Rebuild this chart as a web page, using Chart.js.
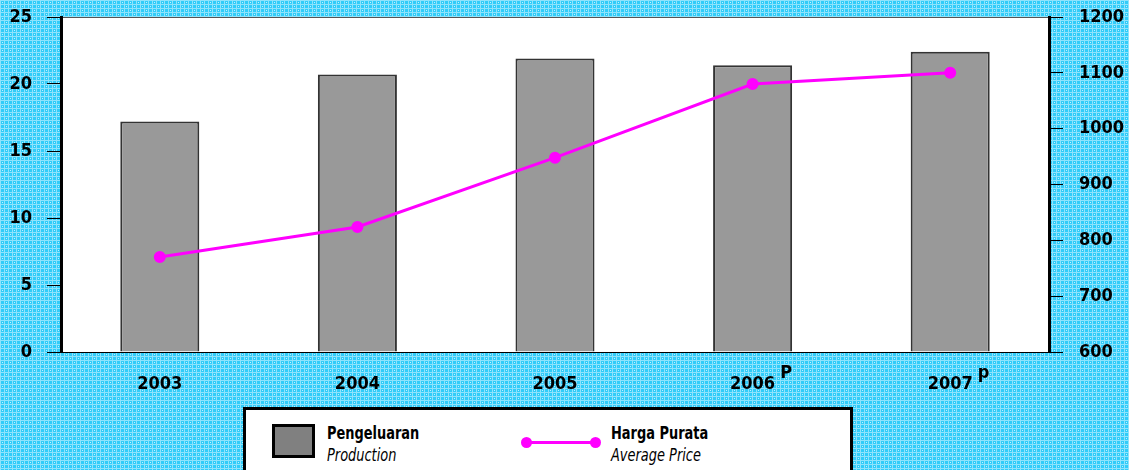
<!DOCTYPE html>
<html>
<head>
<meta charset="utf-8">
<script src="https://cdn.jsdelivr.net/npm/chart.js@4/dist/chart.umd.min.js"></script>
<style>
    body { margin: 0; }
    #wrap { position: relative; width: 1129px; height: 470px; }
    #legendBox {
        position: absolute; left: 243px; top: 407px; width: 610px; height: 70px;
        background: #fff; border: 3px solid #000; box-sizing: border-box;
        font-family: "DejaVu Sans Condensed", sans-serif;
        font-size: 18px; color: #000;
    }
    .swatch { position: absolute; left: 26px; top: 14px; width: 37px; height: 28px; background: #808080; border: 3px solid #000; }
    .lbl { position: absolute; line-height: 22px; transform: scaleX(0.8); transform-origin: left top; white-space: nowrap; }
    .lbl b { font-weight: bold; }
    .lbl i { display: block; }
    .lineSw { position: absolute; left: 280px; top: 31px; width: 70px; height: 3px; background: #ff00ff; }
    .dot { position: absolute; top: -4px; width: 11px; height: 11px; border-radius: 50%; background: #ff00ff; }
</style>
</head>
<body>
<div id="wrap">
    <canvas id="chart" width="1129" height="470"></canvas>
    <div id="legendBox">
        <div class="swatch"></div>
        <div class="lbl" style="left:81px; top:12px;"><b>Pengeluaran</b><i>Production</i></div>
        <div class="lineSw"><div class="dot" style="left:-5px"></div><div class="dot" style="right:-5px"></div></div>
        <div class="lbl" style="left:365px; top:12px;"><b>Harga Purata</b><i>Average Price</i></div>
    </div>
</div>
<script>
// Data
const years = ['2003', '2004', '2005', '2006', '2007'];
const yearMarks = ['', '', '', 'P', 'p'];
const production = [17.2, 20.7, 21.9, 21.4, 22.4];
const avgPrice = [770, 824, 948, 1080, 1100];

const FONT = '"DejaVu Sans Condensed", sans-serif';
const tickFont = { size: 18, weight: 'bold', family: FONT };

// cyan grid pattern for the page background
function makePattern(ctx) {
    const c = document.createElement('canvas');
    c.width = 8; c.height = 8;
    const p = c.getContext('2d');
    p.fillStyle = '#30ccf9';
    p.fillRect(0, 0, 8, 8);
    p.fillStyle = '#8ee3fc';
    p.fillRect(0, 0, 8, 1);
    p.fillRect(0, 4, 8, 1);
    p.fillRect(0, 0, 1, 8);
    p.fillRect(4, 0, 1, 8);
    p.fillStyle = '#c0f0fe';
    p.fillRect(2, 2, 1, 1);
    p.fillRect(6, 6, 1, 1);
    return ctx.createPattern(c, 'repeat');
}

const backdrop = {
    id: 'backdrop',
    beforeDraw(chart) {
        const { ctx, chartArea: a } = chart;
        ctx.save();
        ctx.fillStyle = makePattern(ctx);
        ctx.fillRect(0, 0, chart.width, chart.height);
        ctx.fillStyle = '#fff';
        ctx.fillRect(a.left, a.top, a.right - a.left, a.bottom - a.top);
        ctx.strokeStyle = '#555';
        ctx.lineWidth = 1;
        ctx.beginPath();
        ctx.moveTo(a.left, a.top + 0.5);
        ctx.lineTo(a.right, a.top + 0.5);
        ctx.stroke();
        ctx.restore();
    },
    afterDraw(chart) {
        // superscript marks after 2006 / 2007
        const { ctx } = chart;
        const xs = chart.scales.x;
        ctx.save();
        ctx.font = 'bold 18px ' + FONT;
        ctx.fillStyle = '#000';
        ctx.textBaseline = 'alphabetic';
        yearMarks.forEach((m, i) => {
            if (!m) return;
            const w = ctx.measureText(years[i]).width;
            ctx.fillText(m, xs.getPixelForTick(i) + w / 2 + 5, 378);
        });
        ctx.restore();
    }
};

function fitY(width) {
    return s => {
        s.width = width;
        s.paddingTop = 0;
        s.paddingBottom = 0;
    };
}

new Chart(document.getElementById('chart'), {
    data: {
        labels: years,
        datasets: [
            {
                type: 'line',
                label: 'Harga Purata',
                data: avgPrice,
                yAxisID: 'y1',
                borderColor: '#ff00ff',
                backgroundColor: '#ff00ff',
                borderWidth: 3,
                pointRadius: 4.5,
                pointHoverRadius: 4.5,
                tension: 0,
                order: 0
            },
            {
                type: 'bar',
                label: 'Pengeluaran',
                data: production,
                yAxisID: 'y',
                backgroundColor: '#999999',
                borderColor: '#333333',
                borderWidth: 2,
                barPercentage: 0.4,
                categoryPercentage: 1,
                order: 1
            }
        ]
    },
    options: {
        responsive: false,
        animation: false,
        layout: { padding: { top: 17, left: 0, right: 0, bottom: 0 } },
        plugins: {
            legend: { display: false },
            tooltip: { enabled: false }
        },
        scales: {
            x: {
                offset: true,
                grid: { display: false, drawTicks: false },
                border: { display: true, color: '#000', width: 1 },
                ticks: { color: '#000', font: tickFont, padding: 22 },
                afterFit(s) { s.height = 118; }
            },
            y: {
                position: 'left',
                min: 0, max: 25,
                ticks: { stepSize: 5, color: '#000', font: tickFont, padding: 15 },
                grid: { drawOnChartArea: false, tickLength: 14, tickColor: '#000', tickWidth: 1 },
                border: { color: '#000', width: 3 },
                afterFit: fitY(61)
            },
            y1: {
                position: 'right',
                min: 600, max: 1200,
                ticks: { stepSize: 100, color: '#000', font: tickFont, padding: 16, callback: v => String(v) },
                grid: { drawOnChartArea: false, tickLength: 14, tickColor: '#000', tickWidth: 1 },
                border: { color: '#000', width: 3 },
                afterFit: fitY(80)
            }
        }
    },
    plugins: [backdrop]
});
</script>
</body>
</html>
